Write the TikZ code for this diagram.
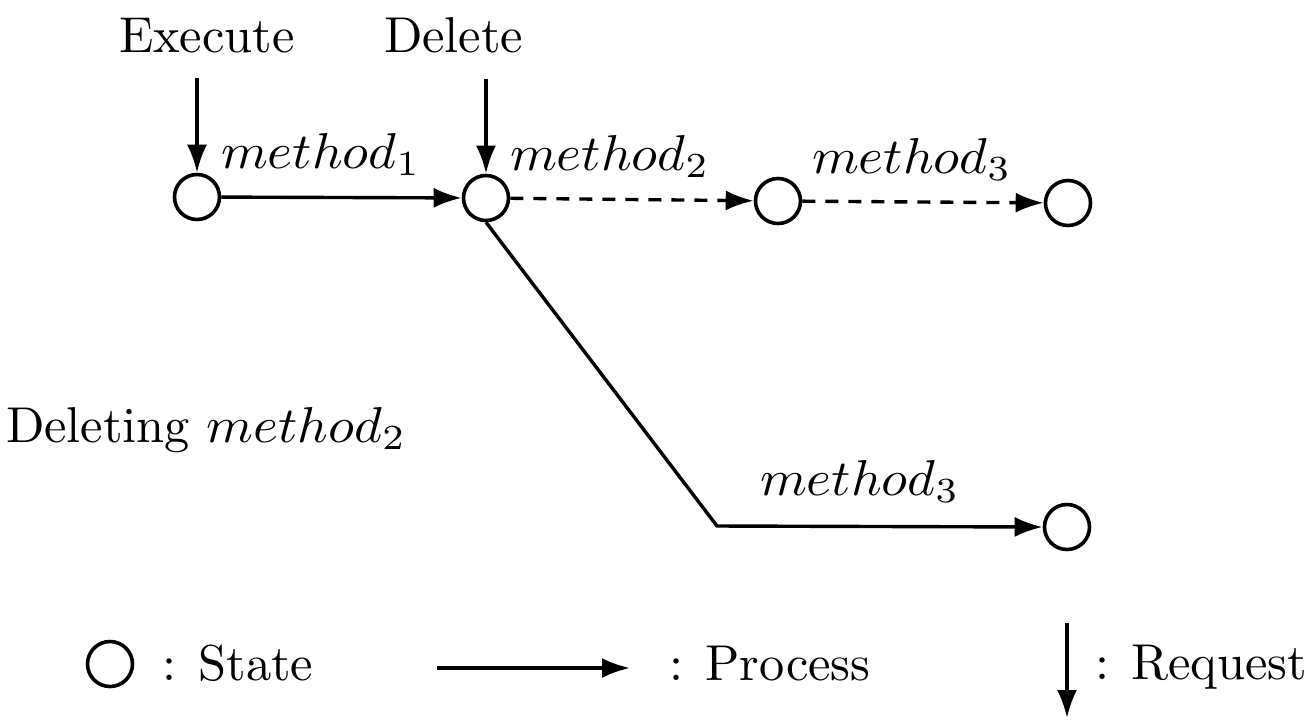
\documentclass[tikz,border=0pt]{standalone}
\usetikzlibrary{arrows.meta}
\newcommand{\mymth}[1]{\scalebox{1.06}[1]{$#1$}}
\begin{document}
\begin{tikzpicture}[x=0.5pt,y=-0.5pt,
  statenode/.style={circle,draw,line width=1.8pt,minimum size=22.5pt,inner sep=0pt},
  lbl/.style={inner sep=0pt,anchor=base west,font=\fontsize{10}{12}\selectfont,scale=2.52,transform shape},
  proc/.style={line width=1.7pt,-{Latex[length=14pt,width=10pt]}},
  dproc/.style={proc,dash pattern=on 6.5pt off 5pt},
  req/.style={line width=1.7pt,-{Latex[length=14pt,width=10pt]}}]
\useasboundingbox (0,0) rectangle (1314,720);
% states
\node[statenode] (s1) at (197,197) {};
\node[statenode] (s2) at (486,198) {};
\node[statenode] (s3) at (778,201) {};
\node[statenode] (s4) at (1068,203) {};
\node[statenode] (s5) at (1067,527) {};
% request labels
\node[lbl] (ex) at (118,52) {Execute};
\node[lbl] (de) at (383,52) {Delete};
\coordinate (r1) at (197,78);
\coordinate (r2) at (486,79);
\draw[req] (r1) -- (s1.north);
\draw[req] (r2) -- (s2.north);
% processes
\draw[proc] (s1) -- (s2);
\draw[dproc] (s2) -- (s3);
\draw[dproc] (s3) -- (s4);
\coordinate (bend) at (717,526);
\draw[proc] (s2.south) -- (bend) -- (s5.west);
% labels
\node[lbl] (m1) at (220,168) {\mymth{method_1}};
\node[lbl] (m2) at (509,170) {\mymth{method_2}};
\node[lbl] (m3) at (811,173) {\mymth{method_3}};
\node[lbl] (m3b) at (759,495) {\mymth{method_3}};
\node[lbl] (del) at (5,442) {Deleting \mymth{method_2}};
% legend
\node[statenode] (ls) at (110,664) {};
\node[lbl] (lst) at (161,680) {: State};
\coordinate (la1) at (437,668);
\coordinate (la2) at (630,668);
\draw[proc] (la1) -- (la2);
\node[lbl] (lpt) at (668,680) {: Process};
\coordinate (lr1) at (1067,623);
\coordinate (lr2) at (1067,718);
\draw[req] (lr1) -- (lr2);
\node[lbl] (lrt) at (1094,679) {: Request};
\end{tikzpicture}
\end{document}
